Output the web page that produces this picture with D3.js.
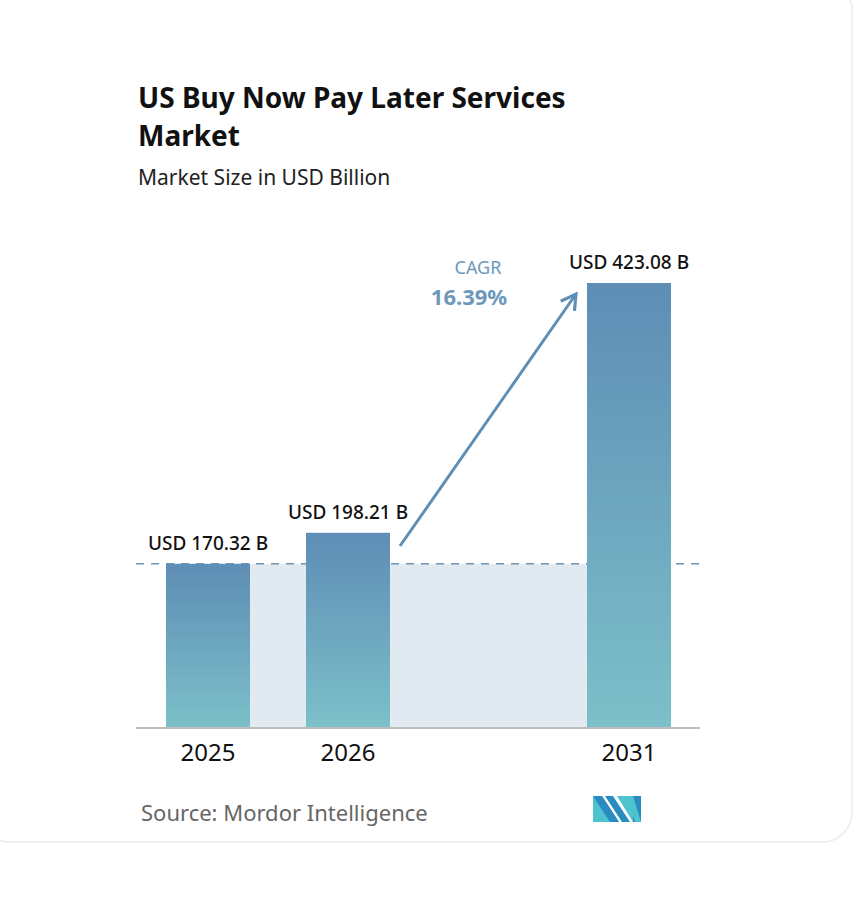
<!DOCTYPE html>
<html><head><meta charset="utf-8">
<script src="https://cdn.jsdelivr.net/npm/d3@7"></script>
<style>body{margin:0;background:#fff;font-family:"Noto Sans",sans-serif}</style>
</head><body>
<div id="chart"></div>
<script>
const years = ["2025", "2026", "2031"]
const values = [170.32, 198.21, 423.08]
const valueLabels = ["USD 170.32 B", "USD 198.21 B", "USD 423.08 B"]
const cagr = "16.39%"

const svg = d3.select('#chart').append('svg').attr('width', 858).attr('height', 910)
const defs = svg.append('defs')
const grad = defs.append('linearGradient').attr('id', 'barGrad').attr('x1', 0).attr('y1', 0).attr('x2', 0).attr('y2', 1)
grad.append('stop').attr('offset', '0%').attr('stop-color', '#5e8db5')
grad.append('stop').attr('offset', '100%').attr('stop-color', '#7cc0c9')
defs.append('marker').attr('id', 'arrow').attr('viewBox', '0 0 10 10').attr('refX', 8).attr('refY', 5)
    .attr('markerWidth', 7).attr('markerHeight', 7).attr('orient', 'auto')
    .append('path').attr('d', 'M1,1 L8,5 L1,9').attr('fill', 'none').attr('stroke', '#5f8fb5').attr('stroke-width', 1.5)

// card
svg.append('rect').attr('x', -20).attr('y', -20).attr('width', 872).attr('height', 862)
    .attr('rx', 30).attr('fill', '#fff').attr('stroke', '#ebebeb').attr('stroke-width', 1.5)

svg.append('text').attr('x', 138).attr('y', 108).attr('font-size', 28).attr('font-weight', 700).attr('fill', '#111').text('US Buy Now Pay Later Services')
svg.append('text').attr('x', 138).attr('y', 146).attr('font-size', 28).attr('font-weight', 700).attr('fill', '#111').text('Market')
svg.append('text').attr('x', 138).attr('y', 185).attr('font-size', 21).attr('fill', '#222').text('Market Size in USD Billion')

const xPos = d3.scaleOrdinal().domain(years).range([166, 306, 587])
const barW = 84
const y = d3.scaleLinear().domain([22.5, 423.08]).range([728, 283])

// shaded band at first-year level
svg.append('rect').attr('x', xPos(years[0]) + barW).attr('y', y(values[0]))
    .attr('width', xPos(years[2]) - xPos(years[0]) - barW).attr('height', 728 - y(values[0])).attr('fill', '#e1e9f1')
svg.append('line').attr('x1', 136).attr('x2', 705).attr('y1', y(values[0])).attr('y2', y(values[0]))
    .attr('stroke', '#6f94b3').attr('stroke-width', 1.5).attr('stroke-dasharray', '8,7')

svg.selectAll('.bar').data(values).join('rect').attr('class', 'bar')
    .attr('x', (d, i) => xPos(years[i])).attr('y', d => y(d))
    .attr('width', barW).attr('height', d => 728 - y(d)).attr('fill', 'url(#barGrad)')

svg.append('line').attr('x1', 136).attr('x2', 700).attr('y1', 728).attr('y2', 728).attr('stroke', '#bdbdbd').attr('stroke-width', 2)

svg.selectAll('.vlab').data(valueLabels).join('text').attr('class', 'vlab')
    .attr('x', (d, i) => xPos(years[i]) + barW / 2).attr('y', (d, i) => y(values[i]) - 14)
    .attr('text-anchor', 'middle').attr('font-size', 19).attr('font-weight', 500).attr('fill', '#111').text(d => d)

svg.selectAll('.year').data(years).join('text').attr('class', 'year')
    .attr('x', d => xPos(d) + barW / 2).attr('y', 761)
    .attr('text-anchor', 'middle').attr('font-size', 24).attr('fill', '#111').text(d => d)

// CAGR arrow
svg.append('line').attr('x1', 400).attr('y1', 546).attr('x2', 576).attr('y2', 294)
    .attr('stroke', '#5f8fb5').attr('stroke-width', 3).attr('marker-end', 'url(#arrow)')
svg.append('text').attr('x', 478).attr('y', 274).attr('text-anchor', 'middle').attr('font-size', 18).attr('fill', '#6d98bb').text('CAGR')
svg.append('text').attr('x', 469).attr('y', 305).attr('text-anchor', 'middle').attr('font-size', 22).attr('font-weight', 700).attr('fill', '#6d98bb').text(cagr)

svg.append('text').attr('x', 141).attr('y', 821).attr('font-size', 22).attr('fill', '#666').text('Source:  Mordor Intelligence')

// logo
const lg = svg.append('g').attr('transform', 'translate(593,796)')
lg.append('path').attr('d', 'M0,0 L9,0 L26,26 L0,26Z').attr('fill', '#4ec3d0')
lg.append('path').attr('d', 'M0,0 L9,0 L26,26 L17,26Z').attr('fill', '#2a8bc0')
lg.append('path').attr('d', 'M12,0 L20,0 L37,26 L29,26Z').attr('fill', '#2a8bc0')
lg.append('path').attr('d', 'M24,0 L40,0 L40,26Z').attr('fill', '#4ec3d0')
lg.append('path').attr('d', 'M40,0 L48,0 L48,26 L40,26Z').attr('fill', '#2a8bc0')
lg.append('path').attr('d', 'M34,0 L40,0 L48,26 L42,26Z').attr('fill', '#4ec3d0')
</script>
</body></html>
